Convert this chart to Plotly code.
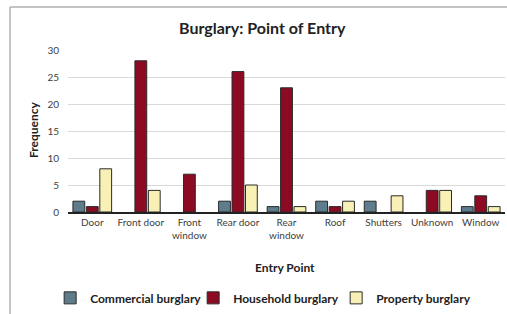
import plotly.graph_objects as go

categories = ["Door", "Front door", "Front<br>window", "Rear door", "Rear<br>window",
              "Roof", "Shutters", "Unknown", "Window"]
commercial = [2, 0, 0, 2, 1, 2, 2, 0, 1]
household = [1, 28, 7, 26, 23, 1, 0, 4, 3]
property_ = [8, 4, 0, 5, 1, 2, 3, 4, 1]
y_ticks = [0, 5, 10, 15, 20, 25, 30]

FONT = "Lato, 'Open Sans', sans-serif"

fig = go.Figure()
series = [
    ("Commercial burglary", commercial, "#5f7c8c"),
    ("Household burglary", household, "#8c0a22"),
    ("Property burglary", property_, "#f8f0b4"),
]
for name, vals, color in series:
    fig.add_trace(go.Bar(
        x=categories, y=[v if v else None for v in vals], name=name,
        marker=dict(color=color, line=dict(color="#2a2a2a", width=1)),
    ))

fig.update_layout(
    width=507, height=314,
    margin=dict(l=68, r=2, t=50, b=102),
    paper_bgcolor="white", plot_bgcolor="white",
    barmode="group", bargap=0.17, bargroupgap=0.12,
    font=dict(family=FONT, color="#404040", size=10),
    showlegend=True,
    legend=dict(orientation="h", x=0.45, xanchor="center", y=-0.53, yanchor="middle",
                font=dict(family=FONT, size=12, color="#222", weight="bold"),
                itemwidth=30, tracegroupgap=0, traceorder="normal",
                entrywidth=98, entrywidthmode="pixels"),
    xaxis=dict(showline=True, linecolor="#222", linewidth=1.5, ticks="",
               tickfont=dict(size=10, color="#404040"), showgrid=False),
    yaxis=dict(range=[0, 30], tickvals=y_ticks, showgrid=True, gridcolor="#d9d9d9",
               gridwidth=1, zeroline=False, ticks="", showline=False,
               tickfont=dict(size=10, color="#404040"), ticklabelstandoff=8),
    annotations=[
        dict(text="<b>Burglary: Point of Entry</b>", xref="paper", yref="paper",
             x=(262 - 68) / 437, y=(212 - 27) / 162, xanchor="center", yanchor="middle",
             showarrow=False, font=dict(family=FONT, size=16, color="#222")),
        dict(text="<b>Frequency</b>", xref="paper", yref="paper",
             x=(33 - 68) / 437, y=(212 - 130) / 162, xanchor="center", yanchor="middle",
             textangle=-90, showarrow=False, font=dict(family=FONT, size=12, color="#222")),
        dict(text="<b>Entry Point</b>", xref="paper", yref="paper",
             x=(285 - 68) / 437, y=(212 - 267) / 162, xanchor="center", yanchor="middle",
             showarrow=False, font=dict(family=FONT, size=12, color="#222")),
    ],
    shapes=[
        dict(type="line", xref="paper", yref="paper",
             x0=(10 - 68) / 437, x1=(510 - 68) / 437, y0=(212 - 7) / 162, y1=(212 - 7) / 162,
             line=dict(color="#b0b0b0", width=1.5)),
        dict(type="line", xref="paper", yref="paper",
             x0=(10 - 68) / 437, x1=(10 - 68) / 437, y0=(212 - 7) / 162, y1=(212 - 320) / 162,
             line=dict(color="#b0b0b0", width=1.5)),
    ],
)

fig.write_html("out.html", config={"displayModeBar": False},
               post_script="document.body.style.margin='0';document.body.style.overflow='hidden';")
